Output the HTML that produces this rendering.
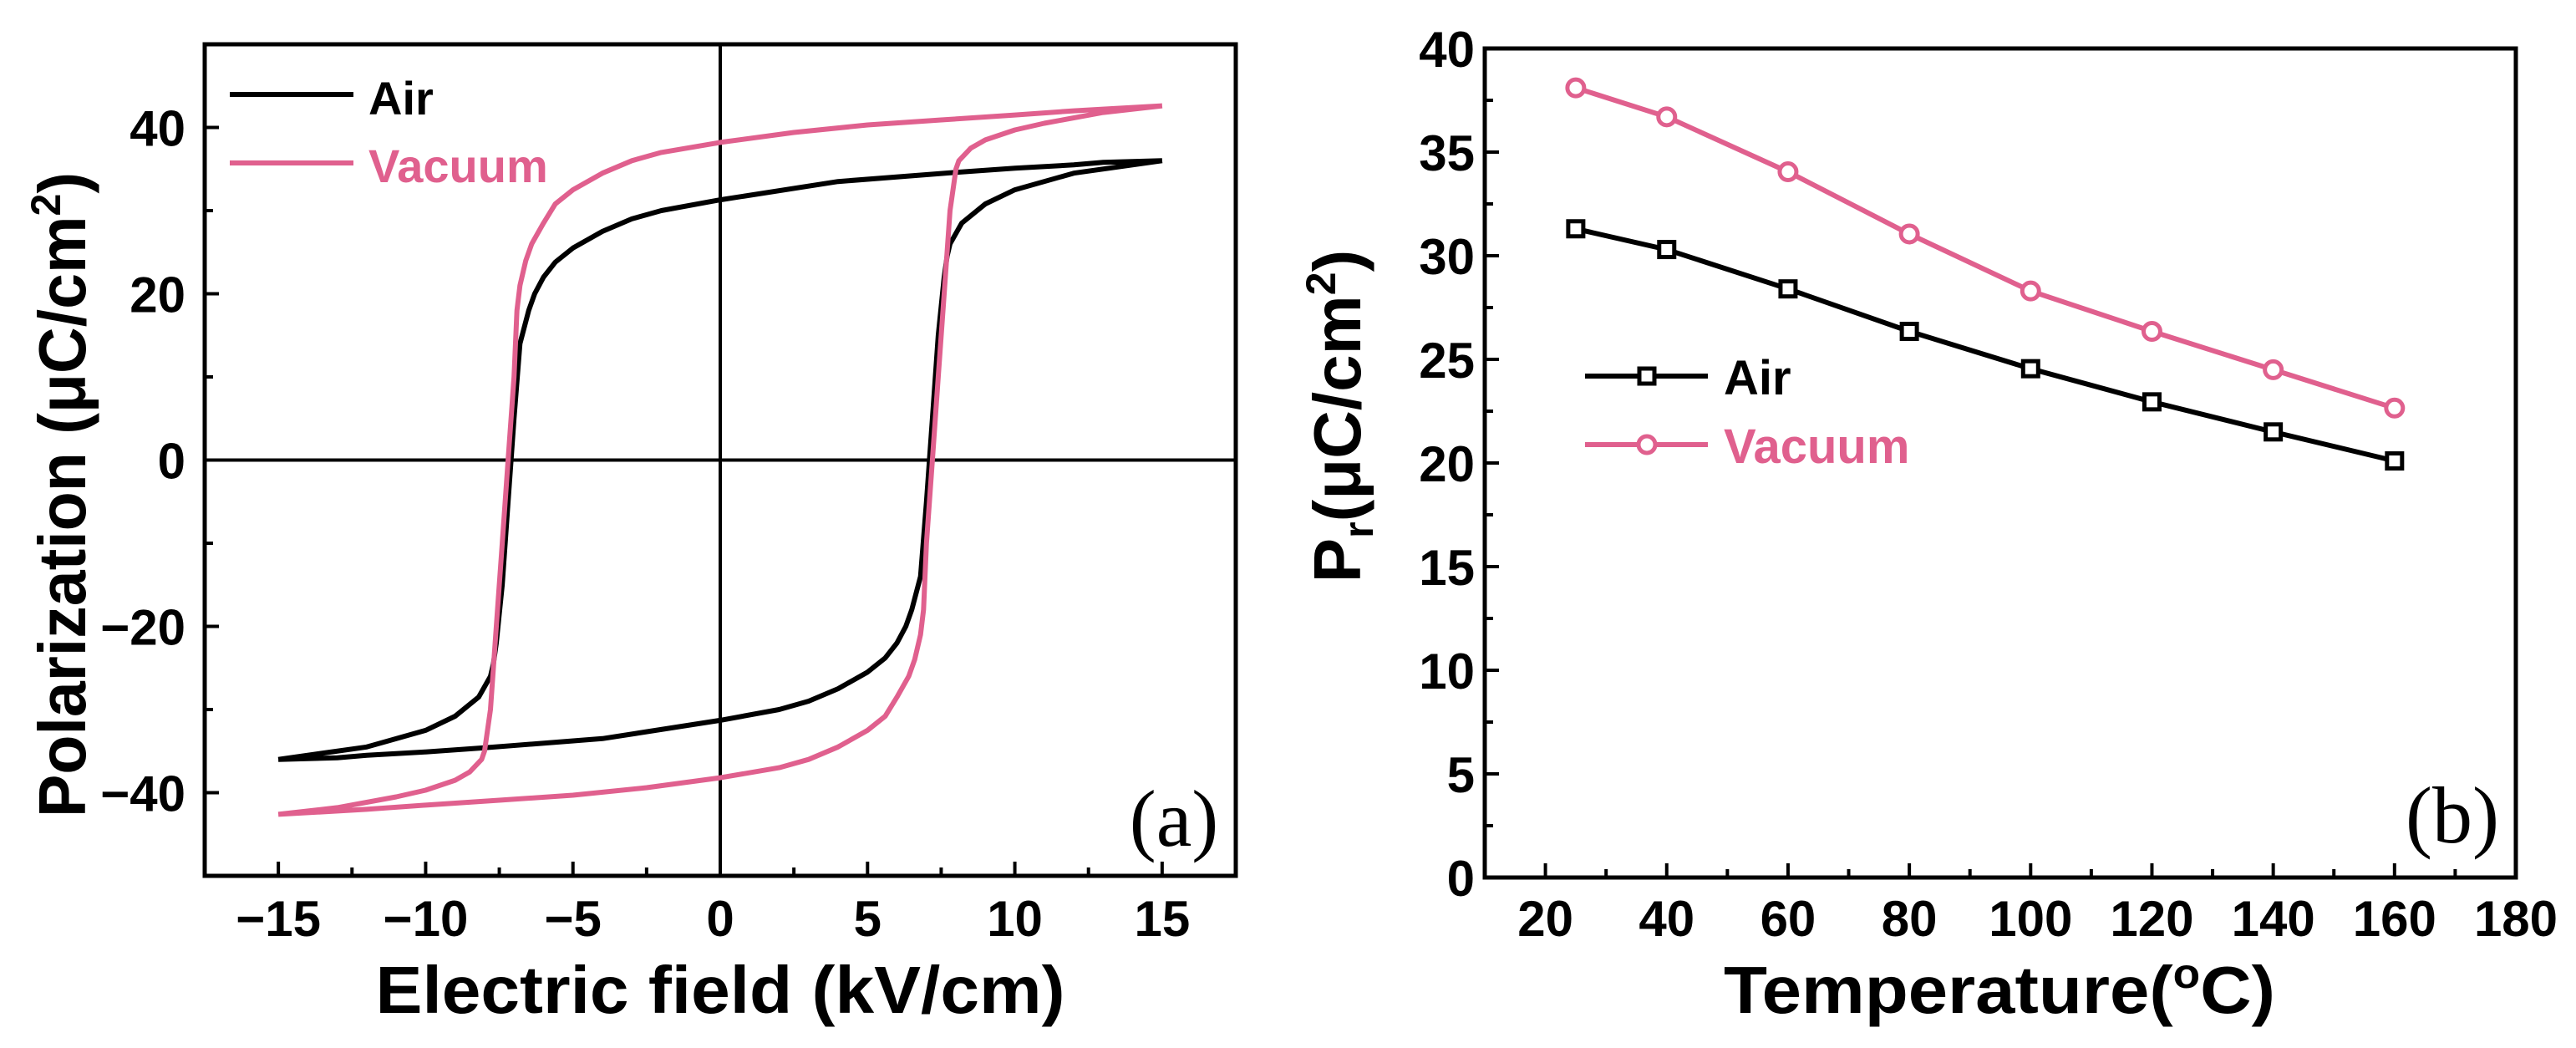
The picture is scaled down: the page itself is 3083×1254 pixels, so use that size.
<!DOCTYPE html>
<html><head><meta charset="utf-8"><style>
html,body{margin:0;padding:0;background:#fff;overflow:hidden;}
svg{display:block;font-family:"Liberation Sans",Arial,sans-serif;}
</style></head><body>
<svg id="fig" width="3083" height="1254" viewBox="0 0 3083 1254" xmlns="http://www.w3.org/2000/svg">
<g id="pa"></g>
<g id="pb"></g>
</svg>
<script>
// Panel (a) data: hysteresis loops (E in kV/cm, P in uC/cm2)
const airUpperE = [15,13,12,10,8,4,0,-2,-3,-4,-5,-5.6,-6,-6.3,-6.5,-6.8,-7,-7.2,-7.4,-7.6,-7.7,-7.8,-8.2,-9,-10,-12,-15];
const airUpperP = [36,35.8,35.5,35.1,34.6,33.5,31.3,30,29,27.5,25.5,23.8,22,20,18,14,5,-5,-15,-22,-24.5,-26,-28.5,-30.8,-32.5,-34.5,-36];
const airLowerE = [-15,-13,-12,-10,-8,-4,0,2,3,4,5,5.6,6,6.3,6.5,6.8,7,7.2,7.4,7.6,7.7,7.8,8.2,9,10,12,15];
const airLowerP = [-36,-35.8,-35.5,-35.1,-34.6,-33.5,-31.3,-30,-29,-27.5,-25.5,-23.8,-22,-20,-18,-14,-5,5,15,22,24.5,26,28.5,30.8,32.5,34.5,36];
const vacUpperE = [15,12,10,7.5,5,2.5,0,-2,-3,-4,-5,-5.6,-6,-6.4,-6.6,-6.8,-6.9,-7,-7.2,-7.4,-7.6,-7.8,-8,-8.1,-8.5,-9,-10,-11,-13,-15];
const vacUpperP = [42.6,42,41.5,40.9,40.3,39.4,38.2,37,36,34.5,32.5,30.8,28.5,26,24,21,18,10,0,-10,-20,-30,-35,-36,-37.5,-38.5,-39.7,-40.5,-41.8,-42.6];
const vacLowerE = [-15,-12,-10,-7.5,-5,-2.5,0,2,3,4,5,5.6,6,6.4,6.6,6.8,6.9,7,7.2,7.4,7.6,7.8,8,8.1,8.5,9,10,11,13,15];
const vacLowerP = [-42.6,-42,-41.5,-40.9,-40.3,-39.4,-38.2,-37,-36,-34.5,-32.5,-30.8,-28.5,-26,-24,-21,-18,-10,0,10,20,30,35,36,37.5,38.5,39.7,40.5,41.8,42.6];
const aXTicks = [-15,-10,-5,0,5,10,15];
const aXTickLabels = ["\u221215","\u221210","\u22125","0","5","10","15"];
const aYTicks = [-40,-20,0,20,40];
const aYTickLabels = ["\u221240","\u221220","0","20","40"];
// Panel (b) data
const temps = [25,40,60,80,100,120,140,160];
const prAir = [31.3,30.3,28.4,26.35,24.55,22.95,21.5,20.1];
const prVac = [38.1,36.7,34.05,31.05,28.3,26.35,24.5,22.65];
const bXTicks = [20,40,60,80,100,120,140,160,180];
const bYTicks = [0,5,10,15,20,25,30,35,40];

const NS="http://www.w3.org/2000/svg";
const PINK="#e0608e";
function mk(parent,tag,attrs,text){const e=document.createElementNS(NS,tag);for(const k in attrs)e.setAttribute(k,attrs[k]);if(text!==undefined)e.textContent=text;parent.appendChild(e);return e;}
function path(xs,ys,fx,fy){return xs.map((x,i)=>(i?'L':'M')+fx(x).toFixed(1)+','+fy(ys[i]).toFixed(1)).join('');}

// ---- Panel a ----
const A=document.getElementById('pa');
const aL=245,aR=1479,aT=53,aB=1048,axMin=-17.5,axMax=17.5,ayMin=-50,ayMax=50;
const ax=v=>aL+(v-axMin)/(axMax-axMin)*(aR-aL);
const ay=v=>aB-(v-ayMin)/(ayMax-ayMin)*(aB-aT);
let e;
e=mk(A,'line',{x1:ax(0),x2:ax(0),y1:aT,y2:aB,stroke:'#000','stroke-width':4});


e=mk(A,'line',{x1:aL,x2:aR,y1:ay(0),y2:ay(0),stroke:'#000','stroke-width':4});


for(let v=-15;v<=15;v+=2.5){const maj=aXTicks.includes(v);
 e=mk(A,'line',{x1:ax(v),x2:ax(v),y1:aB,y2:aB-(maj?17:10),stroke:'#000','stroke-width':4});
 
 }
for(let v=-50;v<=50;v+=10){const maj=aYTicks.includes(v);
 e=mk(A,'line',{x1:aL,x2:aL+(maj?17:10),y1:ay(v),y2:ay(v),stroke:'#000','stroke-width':4});
 
 }
aXTicks.forEach((v,i)=>{e=mk(A,'text',{x:ax(v),y:1120,'font-size':60,'font-weight':'bold','text-anchor':'middle'},aXTickLabels[i]);
 
 });
aYTicks.forEach((v,i)=>{e=mk(A,'text',{x:222,y:ay(v)+22,'font-size':60,'font-weight':'bold','text-anchor':'end'},aYTickLabels[i]);
 
 });
e=mk(A,'path',{d:path(airUpperE,airUpperP,ax,ay)+path(airLowerE,airLowerP,ax,ay),fill:'none',stroke:'#000','stroke-width':6,'stroke-linejoin':'round'});


e=mk(A,'path',{d:path(vacUpperE,vacUpperP,ax,ay)+path(vacLowerE,vacLowerP,ax,ay),fill:'none',stroke:PINK,'stroke-width':6,'stroke-linejoin':'round'});


e=mk(A,'rect',{x:aL,y:aT,width:aR-aL,height:aB-aT,fill:'none',stroke:'#000','stroke-width':5});


e=mk(A,'line',{x1:275,x2:423,y1:113,y2:113,stroke:'#000','stroke-width':6});


e=mk(A,'text',{x:441,y:137,'font-size':56,'font-weight':'bold'},'Air');


e=mk(A,'line',{x1:275,x2:423,y1:195,y2:195,stroke:PINK,'stroke-width':6});


e=mk(A,'text',{x:441,y:218,'font-size':56,'font-weight':'bold',fill:PINK},'Vacuum');


e=mk(A,'text',{x:1405,y:1012,'font-size':96,'font-family':'Liberation Serif,serif','text-anchor':'middle'},'(a)');


e=mk(A,'text',{x:862,y:1212,'font-size':80,'font-weight':'bold','text-anchor':'middle',textLength:825,lengthAdjust:'spacingAndGlyphs'},'Electric field (kV/cm)');


e=mk(A,'text',{x:0,y:0,'font-size':80,'font-weight':'bold','text-anchor':'middle',transform:'translate(102,592) rotate(-90)',textLength:772,lengthAdjust:'spacingAndGlyphs'});


e.innerHTML='Polarization (μC/cm<tspan dy="-30" font-size="50">2</tspan><tspan dy="30">)</tspan>';

// ---- Panel b ----
const B=document.getElementById('pb');
const bL=1777,bR=3011,bT=58,bB=1050,bxMin=10,bxMax=180,byMin=0,byMax=40;
const bx=v=>bL+(v-bxMin)/(bxMax-bxMin)*(bR-bL);
const by=v=>bB-(v-byMin)/(byMax-byMin)*(bB-bT);
for(let v=20;v<=180;v+=10){const maj=bXTicks.includes(v);
 e=mk(B,'line',{x1:bx(v),x2:bx(v),y1:bB,y2:bB-(maj?17:10),stroke:'#000','stroke-width':4});
 
 }
for(let v=0;v<=40;v+=2.5){const maj=bYTicks.includes(v);
 e=mk(B,'line',{x1:bL,x2:bL+(maj?17:10),y1:by(v),y2:by(v),stroke:'#000','stroke-width':4});
 
 }
bXTicks.forEach(v=>{e=mk(B,'text',{x:bx(v),y:1120,'font-size':60,'font-weight':'bold','text-anchor':'middle'},String(v));
 
 });
bYTicks.forEach(v=>{e=mk(B,'text',{x:1765,y:by(v)+22,'font-size':60,'font-weight':'bold','text-anchor':'end'},String(v));
 
 });
e=mk(B,'path',{d:path(temps,prVac,bx,by),fill:'none',stroke:PINK,'stroke-width':6});


e=mk(B,'path',{d:path(temps,prAir,bx,by),fill:'none',stroke:'#000','stroke-width':6});


temps.forEach((t,i)=>{
 e=mk(B,'circle',{cx:bx(t),cy:by(prVac[i]),r:10,fill:'#fff',stroke:PINK,'stroke-width':5});
 
 
 e=mk(B,'rect',{x:bx(t)-9,y:by(prAir[i])-9,width:18,height:18,fill:'#fff',stroke:'#000','stroke-width':5});
 
 
});
e=mk(B,'rect',{x:bL,y:bT,width:bR-bL,height:bB-bT,fill:'none',stroke:'#000','stroke-width':5});


e=mk(B,'line',{x1:1897,x2:2044,y1:450,y2:450,stroke:'#000','stroke-width':6});


e=mk(B,'rect',{x:1962,y:441,width:18,height:18,fill:'#fff',stroke:'#000','stroke-width':5});


e=mk(B,'text',{x:2063,y:472,'font-size':58,'font-weight':'bold'},'Air');


e=mk(B,'line',{x1:1897,x2:2044,y1:532,y2:532,stroke:PINK,'stroke-width':6});


e=mk(B,'circle',{cx:1971,cy:532,r:10,fill:'#fff',stroke:PINK,'stroke-width':5});


e=mk(B,'text',{x:2063,y:554,'font-size':58,'font-weight':'bold',fill:PINK},'Vacuum');


e=mk(B,'text',{x:2935,y:1008,'font-size':96,'font-family':'Liberation Serif,serif','text-anchor':'middle'},'(b)');


e=mk(B,'text',{x:2393,y:1212,'font-size':80,'font-weight':'bold','text-anchor':'middle',textLength:660,lengthAdjust:'spacingAndGlyphs'});


e.innerHTML='Temperature(<tspan dy="-30" font-size="50">o</tspan><tspan dy="30">C)</tspan>';
e=mk(B,'text',{x:0,y:0,'font-size':80,'font-weight':'bold','text-anchor':'middle',transform:'translate(1628,498) rotate(-90)'});


e.innerHTML='P<tspan dy="15" font-size="50">r</tspan><tspan dy="-15">(μC/cm</tspan><tspan dy="-30" font-size="50">2</tspan><tspan dy="30">)</tspan>';
</script>
</body></html>
